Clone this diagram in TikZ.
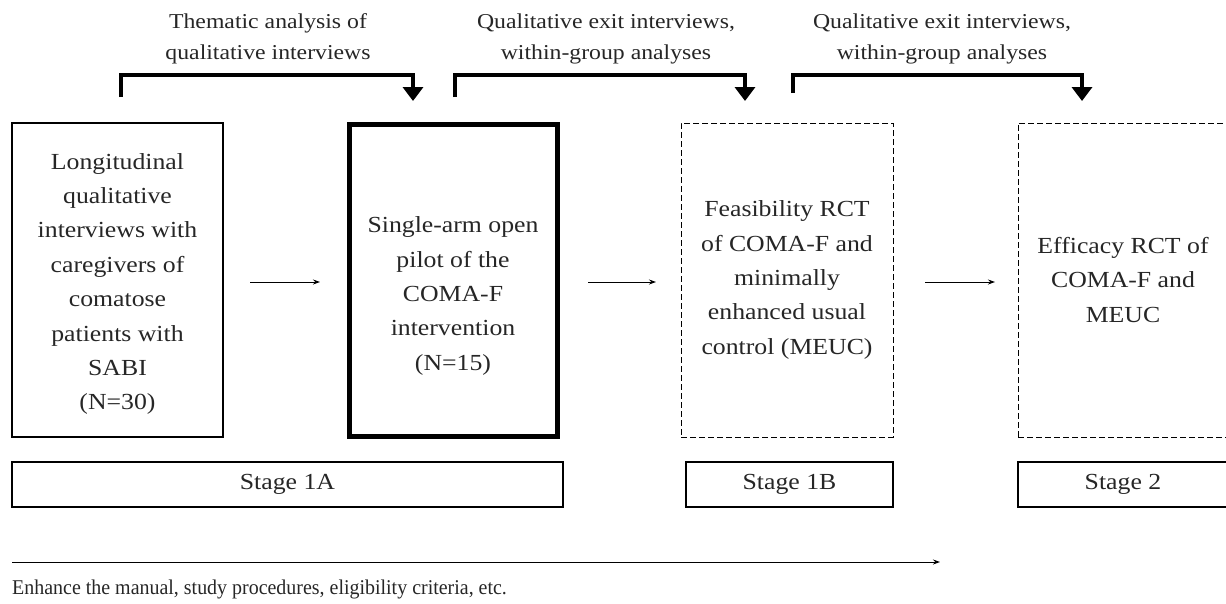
\documentclass[tikz,border=0pt]{standalone}
\usepackage{fontspec}
\setmainfont{Liberation Serif}[FakeStretch=1.12]
\newfontfamily\narrowserif{Liberation Serif}[FakeStretch=0.95]
\usetikzlibrary{arrows.meta}
\begin{document}
\begin{tikzpicture}[x=1pt,y=-1pt,
  boxthin/.style={draw, line width=1.2pt, inner sep=0pt},
  boxthick/.style={draw, line width=5pt, inner sep=0pt},
  boxdash/.style={draw, line width=1pt, dash pattern=on 6pt off 3pt, inner sep=0pt},
  txt/.style={align=center, inner sep=0pt, text=black!85, font=\fontsize{23}{34.4}\selectfont},
  note/.style={align=center, inner sep=0pt, text=black!85, font=\fontsize{21.2}{31}\selectfont},
  footnote/.style={inner sep=0pt, text=black!85, font=\narrowserif\fontsize{21}{25}\selectfont},
  flow/.style={-{Stealth[length=7pt,width=5pt]}, line width=0.9pt},
  bracket/.style={line width=4pt, -{Triangle[length=14pt,width=20pt]}}]
\useasboundingbox (0,0) rectangle (1226,603);
\clip (0,0) rectangle (1226,603);

% main boxes
\node[boxthin, minimum width=211pt, minimum height=314pt] (b1) at (117.5,280) {};
\node[txt] (t1) at (117.5,284) {Longitudinal\\qualitative\\interviews with\\caregivers of\\comatose\\patients with\\SABI\\(N=30)};
\node[boxthick, minimum width=208pt, minimum height=312pt] (b2) at (453,280) {};
\node[txt] (t2) at (453,296) {Single-arm open\\pilot of the\\COMA-F\\intervention\\(N=15)};
\node[boxdash, minimum width=212pt, minimum height=314pt] (b3) at (787,280) {};
\node[txt] (t3) at (787,280) {Feasibility RCT\\of COMA-F and\\minimally\\enhanced usual\\control (MEUC)};
\node[boxdash, minimum width=220pt, minimum height=314pt] (b4) at (1128,280) {};
\node[txt] (t4) at (1123,280) {Efficacy RCT of\\COMA-F and\\MEUC};

% stage boxes
\node[boxthin, minimum width=551pt, minimum height=45pt] (s1) at (287.5,484.5) {};
\node[txt] (s1t) at (287.5,484.5) {Stage 1A};
\node[boxthin, minimum width=207pt, minimum height=45pt] (s2) at (789.5,484.5) {};
\node[txt] (s2t) at (789.5,484.5) {Stage 1B};
\node[boxthin, minimum width=220pt, minimum height=45pt] (s3) at (1128,484.5) {};
\node[txt] (s3t) at (1123,484.5) {Stage 2};

% horizontal flow arrows
\coordinate (a1s) at (250,282); \coordinate (a1e) at (320,282);
\coordinate (a2s) at (588,282); \coordinate (a2e) at (656,282);
\coordinate (a3s) at (925,282); \coordinate (a3e) at (995,282);
\draw[flow] (a1s) -- (a1e);
\draw[flow] (a2s) -- (a2e);
\draw[flow] (a3s) -- (a3e);

% top brackets
\coordinate (k1s) at (121,97); \coordinate (k1e) at (413,101);
\coordinate (k2s) at (455,97); \coordinate (k2e) at (745,101);
\coordinate (k3s) at (793,93); \coordinate (k3e) at (1082,101);
\draw[bracket] (k1s) |- (413,75) -- (k1e);
\draw[bracket] (k2s) |- (745,75) -- (k2e);
\draw[bracket] (k3s) |- (1082,75) -- (k3e);

\node[note] (l1) at (268,39) {Thematic analysis of\\qualitative interviews};
\node[note] (l2) at (606,39) {Qualitative exit interviews,\\within-group analyses};
\node[note] (l3) at (942,39) {Qualitative exit interviews,\\within-group analyses};

% bottom arrow
\coordinate (bs) at (12,562); \coordinate (be) at (940,562);
\draw[flow, line width=1pt] (bs) -- (be);
\node[footnote, anchor=west] (bt) at (12,589) {Enhance the manual, study procedures, eligibility criteria, etc.};
\end{tikzpicture}
\end{document}
